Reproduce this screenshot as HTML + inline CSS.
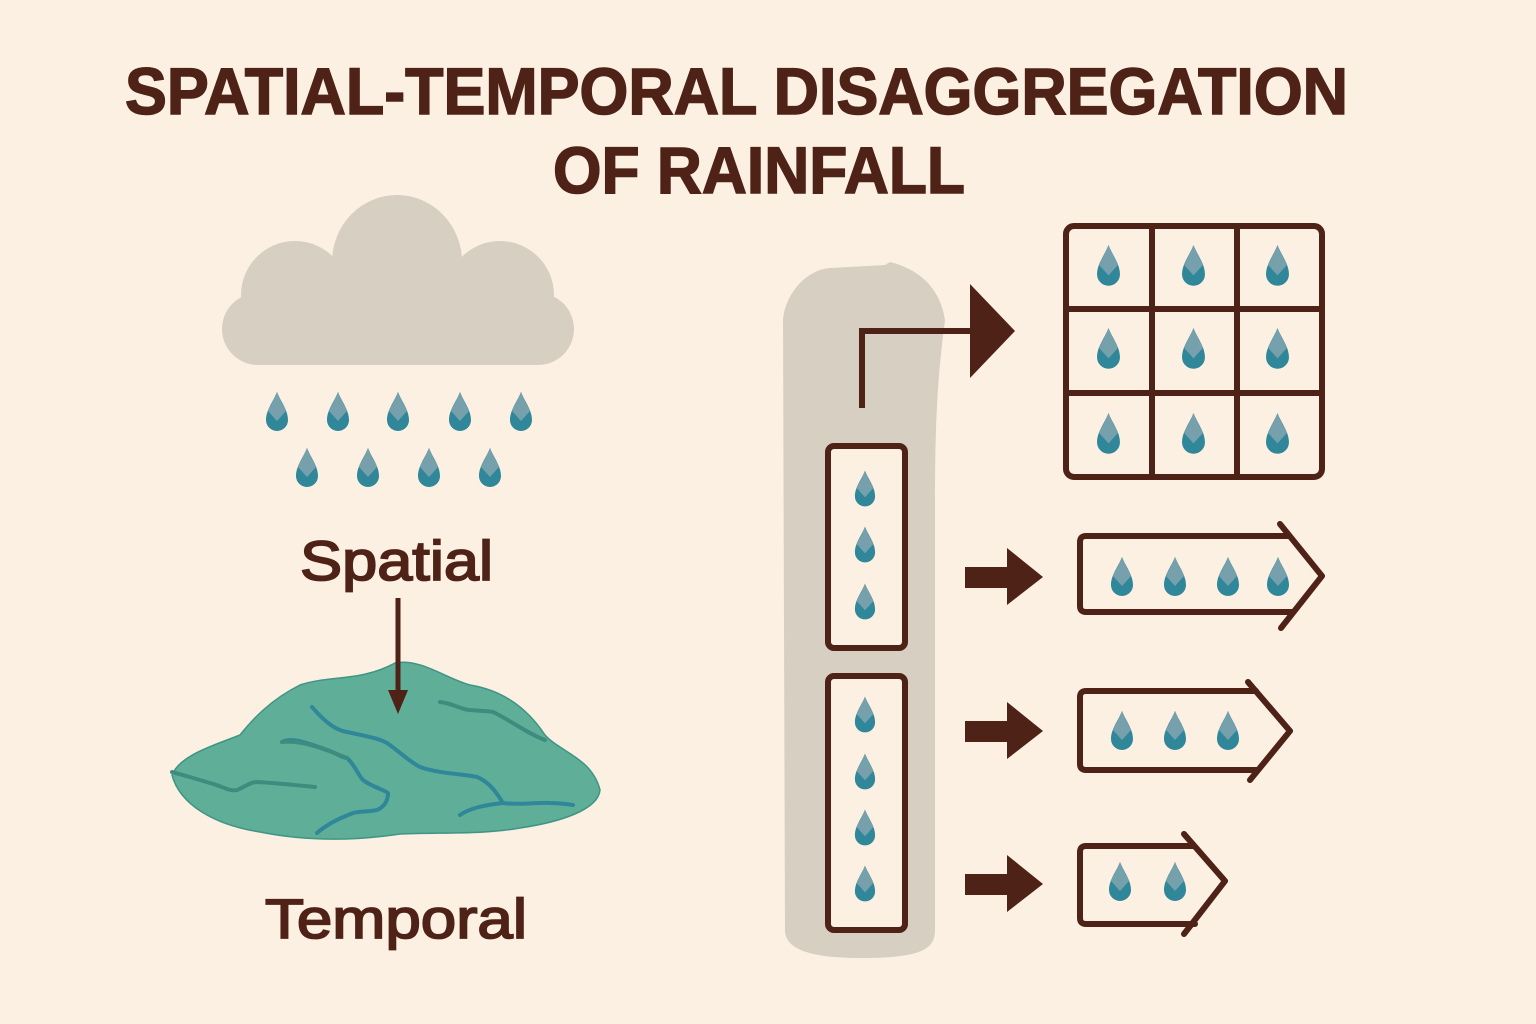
<!DOCTYPE html>
<html><head><meta charset="utf-8"><style>
html,body{margin:0;padding:0;background:#fcf0e2;}
svg{display:block;}
</style></head><body>
<svg width="1536" height="1024" viewBox="0 0 1536 1024" xmlns="http://www.w3.org/2000/svg">
<defs>
<symbol id="drop" viewBox="-12 -21 24 42" overflow="visible">
<path d="M0,-20 C4,-10 11,-2 11,8 A11,11 0 0 1 -11,8 C-11,-2 -4,-10 0,-20Z" fill="#2f8799"/>
<path d="M0,-20 C3,-12 7,-6 9,-1 L0,9 L-9,-1 C-7,-6 -3,-12 0,-20Z" fill="#76a0ac"/>
</symbol>
</defs>
<rect width="1536" height="1024" fill="#fcf0e2"/>
<g font-family="Liberation Sans, sans-serif" font-weight="bold" fill="#4e2216" stroke="#4e2216" stroke-width="1.5">
<text x="125" y="114" font-size="66" textLength="1223" lengthAdjust="spacingAndGlyphs">SPATIAL-TEMPORAL DISAGGREGATION</text>
<text x="553" y="193" font-size="66" textLength="412" lengthAdjust="spacingAndGlyphs">OF RAINFALL</text>
</g>
<!-- cloud -->
<g fill="#d8cfc3">
<rect x="222" y="293" width="352" height="72" rx="36"/>
<circle cx="295" cy="295" r="54"/>
<ellipse cx="397" cy="262" rx="65" ry="67"/>
<circle cx="500" cy="295" r="54"/>
</g>
<g>
<use href="#drop" x="265" y="390" width="24" height="44"/>
<use href="#drop" x="326" y="390" width="24" height="44"/>
<use href="#drop" x="386" y="390" width="24" height="44"/>
<use href="#drop" x="448" y="390" width="24" height="44"/>
<use href="#drop" x="509" y="390" width="24" height="44"/>
<use href="#drop" x="295" y="446" width="24" height="44"/>
<use href="#drop" x="356" y="446" width="24" height="44"/>
<use href="#drop" x="417" y="446" width="24" height="44"/>
<use href="#drop" x="478" y="446" width="24" height="44"/>
</g>
<text x="300" y="580" font-family="Liberation Sans, sans-serif" font-size="56" fill="#4e2216" stroke="#4e2216" stroke-width="1.8" textLength="193" lengthAdjust="spacingAndGlyphs">Spatial</text>
<!-- land -->
<path d="M172,775 C180,755 215,745 240,735 C252,720 270,700 300,685 C330,675 360,682 395,663 C420,658 445,678 470,685 C500,690 525,705 545,735 C560,752 592,758 600,790 C598,810 560,822 520,828 C480,835 440,832 400,834 C360,840 310,842 260,832 C215,825 180,805 172,775Z" fill="#5fae98" stroke="#3f9585" stroke-width="1.5"/>
<g fill="none" stroke-linecap="round" stroke-linejoin="round" stroke-width="4">
<path d="M312,707 C325,722 335,730 347,732 C365,736 378,738 387,743 C400,752 410,762 420,767 C440,774 465,774 477,777 C490,782 498,795 503,803 C520,806 545,800 573,805" stroke="#2f8799"/>
<path d="M503,803 C485,805 470,808 460,815" stroke="#2f8799"/>
<path d="M282,742 C290,738 300,740 327,750 C337,753 342,758 347,758 C355,765 358,775 363,780 C372,787 385,790 388,793 C388,803 382,808 377,810 C368,812 360,811 353,813 C340,818 327,824 317,833" stroke="#2f8799"/>
<path d="M282,742 C300,740 320,747 347,758" stroke="#3f8b7e"/>
<path d="M172,772 C190,777 200,780 210,783 C222,786 230,792 237,790 C245,787 250,782 257,782 C275,783 295,785 315,787" stroke="#3f8b7e"/>
<path d="M440,702 C455,704 462,710 470,710 C480,711 488,711 493,712 C510,720 530,735 545,740" stroke="#3f8b7e"/>
</g>
<line x1="398" y1="598" x2="398" y2="695" stroke="#4e2216" stroke-width="5"/>
<polygon points="388,690 408,690 398,714" fill="#4e2216"/>
<text x="265" y="938" font-family="Liberation Sans, sans-serif" font-size="56" fill="#4e2216" stroke="#4e2216" stroke-width="1.8" textLength="262" lengthAdjust="spacingAndGlyphs">Temporal</text>
<!-- gray band -->
<path d="M830,268 L885,265 L890,262 C915,268 940,285 945,320 C940,360 935,400 935,500 L935,930 C935,950 920,958 860,958 C800,958 785,945 785,930 L783,320 C785,295 805,270 830,268Z" fill="#d8cfc3"/>
<!-- connector -->
<path d="M862,408 L862,331 L975,331" fill="none" stroke="#4e2216" stroke-width="6" stroke-linejoin="miter"/>
<polygon points="970,284 1015,331 970,378" fill="#4e2216"/>
<!-- grid -->
<g fill="none" stroke="#4e2216" stroke-width="6">
<rect x="1066" y="226" width="256" height="251" rx="8"/>
<line x1="1152" y1="226" x2="1152" y2="477"/>
<line x1="1237" y1="226" x2="1237" y2="477"/>
<line x1="1066" y1="309" x2="1322" y2="309"/>
<line x1="1066" y1="393" x2="1322" y2="393"/>
</g>
<g>
<use href="#drop" x="1096" y="244" width="25" height="44"/>
<use href="#drop" x="1181" y="244" width="25" height="44"/>
<use href="#drop" x="1265" y="244" width="25" height="44"/>
<use href="#drop" x="1096" y="327" width="25" height="44"/>
<use href="#drop" x="1181" y="327" width="25" height="44"/>
<use href="#drop" x="1265" y="327" width="25" height="44"/>
<use href="#drop" x="1096" y="412" width="25" height="44"/>
<use href="#drop" x="1181" y="412" width="25" height="44"/>
<use href="#drop" x="1265" y="412" width="25" height="44"/>
</g>
<!-- vertical boxes -->
<g fill="#fcf0e2" stroke="#4e2216" stroke-width="6">
<rect x="828" y="446" width="77" height="202" rx="6"/>
<rect x="828" y="676" width="77" height="254" rx="6"/>
</g>
<g>
<use href="#drop" x="854" y="469" width="22" height="40"/>
<use href="#drop" x="854" y="525" width="22" height="40"/>
<use href="#drop" x="854" y="582" width="22" height="40"/>
<use href="#drop" x="854" y="695" width="22" height="40"/>
<use href="#drop" x="854" y="752" width="22" height="40"/>
<use href="#drop" x="854" y="808" width="22" height="40"/>
<use href="#drop" x="854" y="864" width="22" height="40"/>
</g>
<!-- short arrows -->
<g fill="#4e2216">
<rect x="965" y="567" width="45" height="21"/><polygon points="1007,548 1043,577 1007,605"/>
<rect x="965" y="721" width="45" height="21"/><polygon points="1007,702 1043,731 1007,759"/>
<rect x="965" y="874" width="45" height="21"/><polygon points="1007,855 1043,884 1007,912"/>
</g>
<!-- arrow boxes -->
<g fill="none" stroke="#4e2216" stroke-width="6" stroke-linejoin="round" stroke-linecap="round">
<path d="M1288,536 L1086,536 Q1080,536 1080,542 L1080,606 Q1080,612 1086,612 L1292,612"/>
<path d="M1280,524 L1322,576 L1281,628"/>
<path d="M1256,691 L1086,691 Q1080,691 1080,697 L1080,764 Q1080,770 1086,770 L1258,770"/>
<path d="M1248,682 L1290,731 L1250,780"/>
<path d="M1193,846 L1086,846 Q1080,846 1080,852 L1080,918 Q1080,924 1086,924 L1195,924"/>
<path d="M1184,834 L1225,881 L1184,934"/>
</g>
<g>
<use href="#drop" x="1110" y="556" width="24" height="42"/>
<use href="#drop" x="1163" y="556" width="24" height="42"/>
<use href="#drop" x="1216" y="556" width="24" height="42"/>
<use href="#drop" x="1266" y="556" width="24" height="42"/>
<use href="#drop" x="1110" y="710" width="24" height="42"/>
<use href="#drop" x="1163" y="710" width="24" height="42"/>
<use href="#drop" x="1216" y="710" width="24" height="42"/>
<use href="#drop" x="1108" y="861" width="24" height="42"/>
<use href="#drop" x="1163" y="861" width="24" height="42"/>
</g>
</svg>
</body></html>
